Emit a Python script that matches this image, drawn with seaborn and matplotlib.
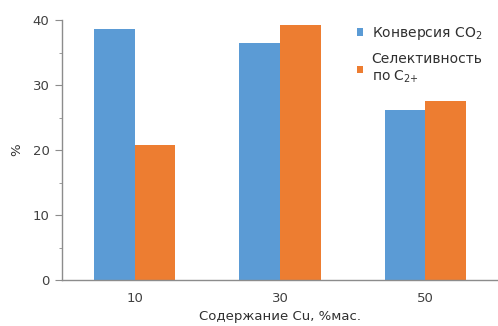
import matplotlib
matplotlib.use("Agg")
import matplotlib.pyplot as plt
import pandas as pd
import seaborn as sns
from matplotlib.ticker import MultipleLocator

# Data
cu_content = ["10", "30", "50"]
conversion_co2 = [38.6, 36.5, 26.2]
selectivity_c2 = [20.8, 39.2, 27.5]
series_names = ["Конверсия CO$_2$", "Селективность\nпо C$_{2{+}}$"]

df = pd.DataFrame({
    "cu": cu_content * 2,
    "value": conversion_co2 + selectivity_c2,
    "series": [series_names[0]] * 3 + [series_names[1]] * 3,
})

sns.set_style("white")
plt.rcParams["font.family"] = ["DejaVu Sans"]
plt.rcParams["mathtext.fontset"] = "dejavusans"

palette = ["#5B9BD5", "#ED7D31"]

fig = plt.figure(figsize=(4.98, 3.26), dpi=100)
ax = fig.add_axes([62 / 498, 1 - 280 / 326, 1 - 62 / 498, 260 / 326])

sns.barplot(
    data=df, x="cu", y="value", hue="series", palette=palette,
    width=0.56, saturation=1, linewidth=0, ax=ax, legend=True,
)

ax.set_xlim(-0.5, 2.5)
ax.set_ylim(0, 40)
ax.yaxis.set_major_locator(MultipleLocator(10))
ax.yaxis.set_minor_locator(MultipleLocator(5))

for side in ["top", "right"]:
    ax.spines[side].set_visible(False)
for side in ["left", "bottom"]:
    ax.spines[side].set_color("#8c8c8c")
    ax.spines[side].set_linewidth(1.0)

ax.tick_params(axis="y", which="major", left=True, length=5, color="#8c8c8c",
               labelsize=9.5, labelcolor="#404040", pad=4)
ax.tick_params(axis="y", which="minor", left=True, length=2, color="#8c8c8c")
ax.tick_params(axis="x", bottom=False, labelsize=9.5, labelcolor="#404040", pad=5)

ax.set_xlabel("Содержание Cu, %мас.", fontsize=9.5, color="#303030", labelpad=4)
ax.set_ylabel("%", fontsize=9.5, color="#303030", labelpad=7)

ax.legend(
    loc="upper left", bbox_to_anchor=((357 - 62) / 436, (280 - 25) / 260),
    frameon=False, fontsize=10, labelcolor="#303030",
    handlelength=0.45, handleheight=0.45, handletextpad=0.6,
    labelspacing=0.75, borderaxespad=0, borderpad=0,
)

fig.savefig("out.png", dpi=100)
